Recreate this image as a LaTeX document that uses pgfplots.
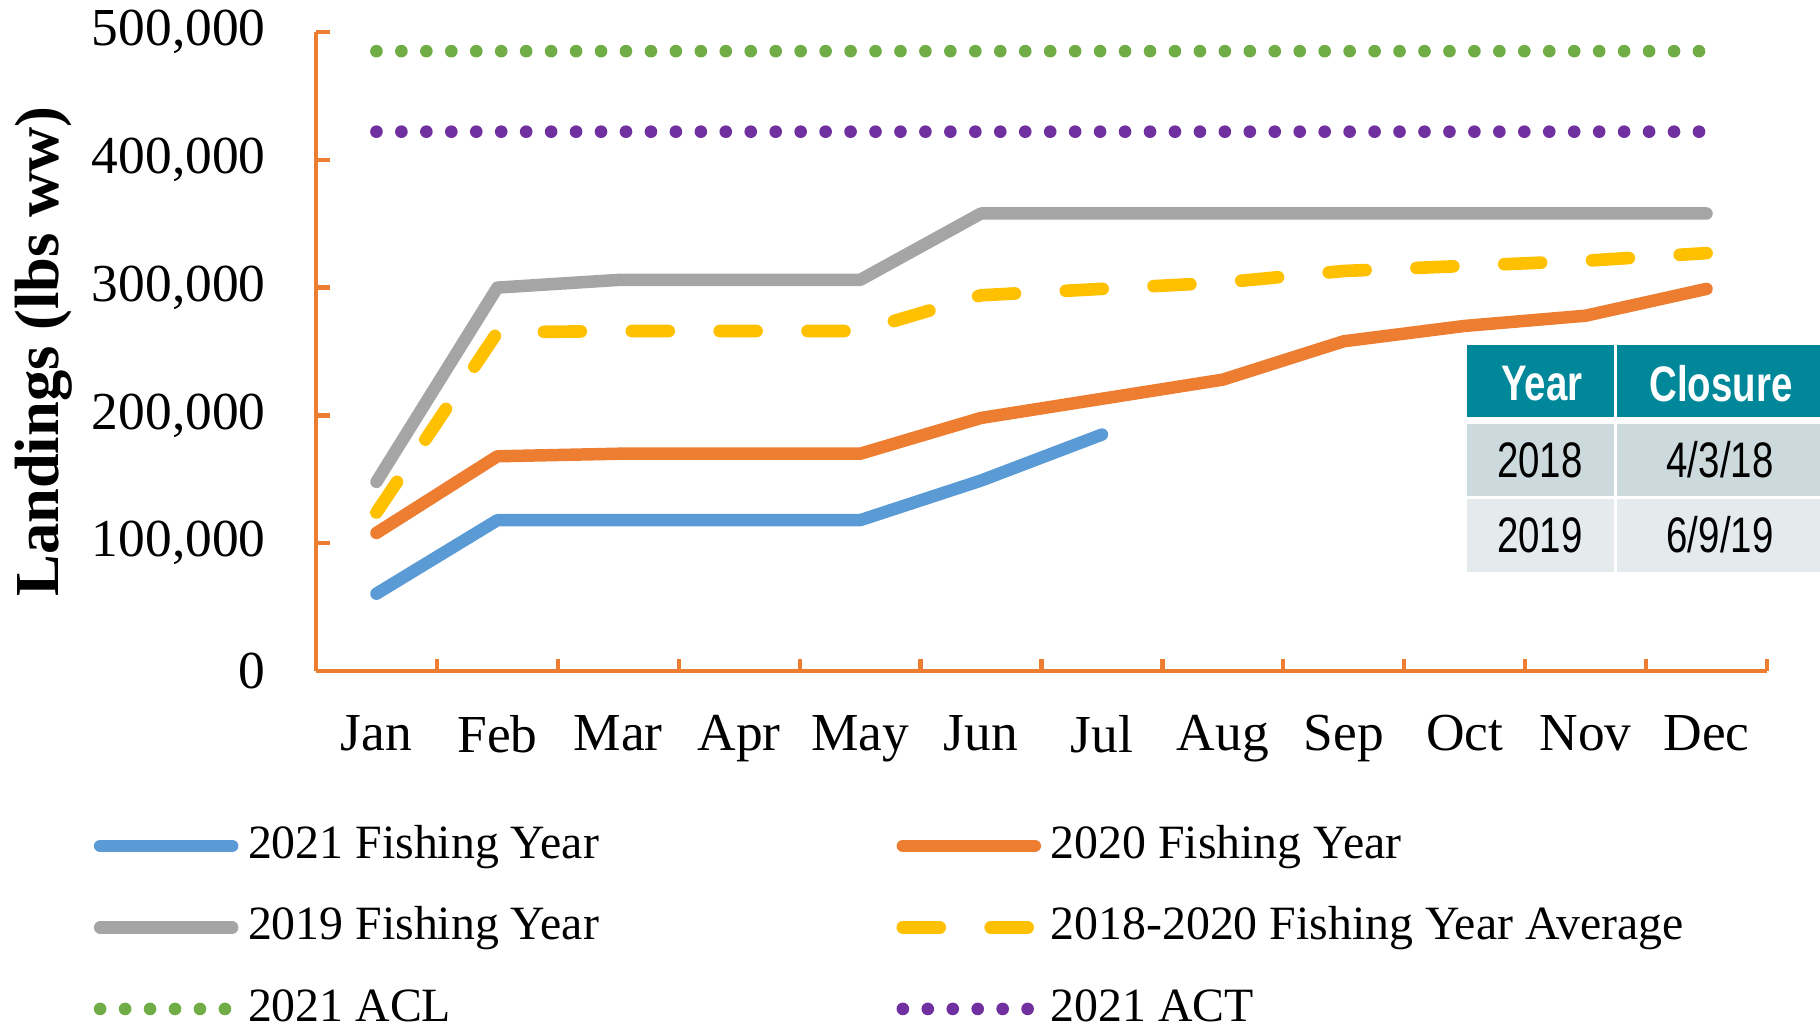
\documentclass[border=0pt]{standalone}
\usepackage{fontspec}
\setmainfont{Liberation Serif}
\newfontfamily\tabfont[FakeStretch=0.77]{Liberation Sans}
\usepackage{pgfplots}
\pgfplotsset{compat=1.18}
\definecolor{fyblue}{HTML}{5B9BD5}
\definecolor{fyorange}{HTML}{ED7D31}
\definecolor{fygray}{HTML}{A5A5A5}
\definecolor{fyyellow}{HTML}{FFC000}
\definecolor{fygreen}{HTML}{70AD47}
\definecolor{fypurple}{HTML}{7030A0}
\definecolor{tabhead}{HTML}{00889A}
\definecolor{tabrowa}{HTML}{CCDADD}
\definecolor{tabrowb}{HTML}{E5EBEC}
\begin{document}
\begin{tikzpicture}
\path[use as bounding box] (0,0) rectangle (18.2,10.31);
\begin{axis}[
  scale only axis, width=14.51cm, height=6.39cm,
  at={(3.16cm,3.60cm)}, anchor=south west,
  xmin=0, xmax=12, ymin=0, ymax=500000,
  axis x line=bottom, axis y line=left,
  axis line style={-, draw=fyorange, line width=1.2pt},
  tick align=inside, tick style={fyorange, line width=1.2pt},
  major tick length=0.14cm, minor tick length=0.12cm,
  xtick={0.5,1.5,...,11.5},
  xticklabels={Jan,Feb,Mar,Apr,May,Jun,Jul,Aug,Sep,Oct,Nov,Dec},
  x tick style={draw=none},
  minor xtick={1,2,...,12},
  minor x tick style={draw=fyorange, line width=1.2pt},
  ytick={0,100000,200000,300000,400000,500000},
  scaled y ticks=false,
  /pgf/number format/fixed,
  /pgf/number format/1000 sep={,},
  /pgf/number format/assume math mode=true,
  tick label style={font=\fontsize{15.2}{18}\selectfont},
  yticklabel style={xshift=-0.38cm},
  xticklabel style={yshift=-0.32cm},
  ylabel={\textbf{Landings (lbs ww)}},
  ylabel style={font=\fontsize{17.8}{20}\selectfont, at={(axis description cs:-0.188,0.5)}, anchor=center},
  clip=false,
  legend columns=2,
  legend cell align=left,
  legend image code/.code={\draw[#1] (0cm,0cm) -- (1.32cm,0cm);},
  legend style={draw=none, fill=none, inner sep=0pt,
    at={(axis description cs:-0.1536,-0.235)}, anchor=north west,
    font=\fontsize{13.6}{16}\selectfont,
    row sep=0.335cm,
    nodes={inner sep=1pt, text height=0.33cm, text depth=0.08cm},
    /tikz/every odd column/.append style={column sep=0.06cm},
    /tikz/every even column/.append style={column sep=2.94cm}},
  line join=round,
]
\addplot[fyblue, line width=3.55pt, line cap=round] coordinates {
  (0.5,60500) (1.5,118000) (2.5,118000) (3.5,118000) (4.5,118000) (5.5,149000) (6.5,185000)};
\addlegendentry{2021 Fishing Year}
\addplot[fyorange, line width=3.55pt, line cap=round] coordinates {
  (0.5,108000) (1.5,168000) (2.5,170000) (3.5,170000) (4.5,170000) (5.5,198000) (6.5,213000)
  (7.5,228000) (8.5,258000) (9.5,270000) (10.5,278000) (11.5,299000)};
\addlegendentry{2020 Fishing Year}
\addplot[fygray, line width=3.55pt, line cap=round] coordinates {
  (0.5,148000) (1.5,300000) (2.5,306000) (3.5,306000) (4.5,306000) (5.5,358000) (6.5,358000)
  (7.5,358000) (8.5,358000) (9.5,358000) (10.5,358000) (11.5,358000)};
\addlegendentry{2019 Fishing Year}
\addplot[fyyellow, line width=3.6pt, line cap=round, dash pattern=on 10.5pt off 14.5pt] coordinates {
  (0.5,124000) (1.5,265000) (2.5,266000) (3.5,266000) (4.5,266000) (5.5,294000) (6.5,299000)
  (7.5,304000) (8.5,313000) (9.5,317000) (10.5,321000) (11.5,327000)};
\addlegendentry{2018-2020 Fishing Year Average}
\addplot[fygreen, line width=3.6pt, line cap=round, dash pattern=on 0pt off 7.1pt] coordinates {
  (0.5,485000) (11.5,485000)};
\addlegendentry{2021 ACL}
\addplot[fypurple, line width=3.6pt, line cap=round, dash pattern=on 0pt off 7.1pt] coordinates {
  (0.5,422000) (11.5,422000)};
\addlegendentry{2021 ACT}
\end{axis}
% closure table
\fill[tabhead] (14.67,6.86) rectangle (16.14,6.14);
\fill[tabhead] (16.17,6.86) rectangle (18.2,6.14);
\fill[tabrowa] (14.67,6.07) rectangle (16.14,5.35);
\fill[tabrowa] (16.17,6.07) rectangle (18.2,5.35);
\fill[tabrowb] (14.67,5.32) rectangle (16.14,4.59);
\fill[tabrowb] (16.17,5.32) rectangle (18.2,4.59);
\begin{scope}[every node/.style={font=\tabfont\fontsize{14.2}{16}\selectfont, inner sep=0pt}]
\node[white, font=\tabfont\bfseries\fontsize{14.2}{16}\selectfont] at (15.42,6.47) {Year};
\node[white, font=\tabfont\bfseries\fontsize{14.2}{16}\selectfont] at (17.21,6.47) {Closure};
\node at (15.40,5.71) {2018};
\node at (17.20,5.71) {4/3/18};
\node at (15.40,4.96) {2019};
\node at (17.20,4.96) {6/9/19};
\end{scope}
\end{tikzpicture}
\end{document}
